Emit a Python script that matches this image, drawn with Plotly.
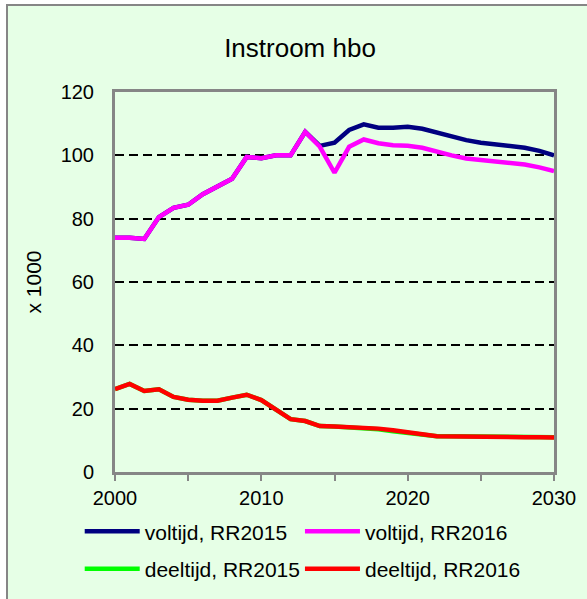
import plotly.graph_objects as go

# Instroom hbo, x 1000
years = list(range(2000, 2031))

voltijd_rr2015 = [74.0, 74.0, 73.6, 80.5, 83.4, 84.4, 87.7, 90.2, 92.6, 99.5,
                  99.1, 100.0, 100.0, 107.4, 103.0, 104.0, 108.0, 109.8, 108.7, 108.7,
                  109.0, 108.4, 107.2, 105.9, 104.8, 104.0, 103.4, 102.9, 102.4, 101.4,
                  100.0]
voltijd_rr2016 = [74.0, 74.0, 73.6, 80.5, 83.4, 84.4, 87.7, 90.2, 92.6, 99.5,
                  99.1, 100.0, 100.0, 107.4, 102.7, 94.5, 102.7, 105.0, 103.8, 103.2,
                  103.0, 102.4, 101.1, 100.0, 99.0, 98.5, 98.2, 97.6, 97.1, 96.2,
                  95.0]
deeltijd_rr2015 = [26.2, 27.8, 25.6, 26.1, 23.7, 22.8, 22.5, 22.5, 23.5, 24.4,
                   22.7, 19.8, 16.7, 16.1, 14.5, 14.4, 14.2, 13.9, 13.5, 12.9,
                   12.4, 11.7, 11.3, 11.3, 11.3, 11.3, 11.2, 11.2, 11.1, 11.1,
                   11.0]
deeltijd_rr2016 = [26.2, 27.8, 25.6, 26.1, 23.7, 22.8, 22.5, 22.5, 23.5, 24.4,
                   22.7, 19.8, 16.7, 16.1, 14.5, 14.4, 14.2, 14.0, 13.7, 13.2,
                   12.7, 11.9, 11.3, 11.2, 11.2, 11.2, 11.1, 11.1, 11.0, 11.0,
                   10.9]

series_names = ["voltijd, RR2015", "voltijd, RR2016", "deeltijd, RR2015", "deeltijd, RR2016"]
series_values = [voltijd_rr2015, voltijd_rr2016, deeltijd_rr2015, deeltijd_rr2016]
series_colors = ["#000080", "#FF00FF", "#00FF00", "#FF0000"]

split_year = 2015

FONT = "Liberation Sans, Arial, sans-serif"
BG = "#E6FFE6"
FRAME = "#868686"

# one legend box per entry, laid out as a 2x2 grid under the chart
legend_ids = ["legend", "legend2", "legend3", "legend4"]
legend_pos = [(0.1358, 0.1124), (0.511, 0.1124), (0.1358, 0.0500), (0.511, 0.0500)]

fig = go.Figure()
for name, vals, color, leg in zip(series_names, series_values, series_colors, legend_ids):
    fig.add_trace(go.Scatter(
        x=years, y=vals, name=name, mode="lines",
        line=dict(color=color, width=4.5),
        legend=leg,
    ))

# vertical marker at the start of the forecast period
fig.add_shape(type="line", xref="x", yref="paper", x0=split_year, x1=split_year,
              y0=0, y1=1, line=dict(color="#999999", width=2), layer="below")

# chart-area background with frame
fig.add_shape(type="rect", xref="paper", yref="paper",
              x0=-0.246, x1=1.2, y0=-0.5, y1=1.229,
              fillcolor=BG, line=dict(color=FRAME, width=2), layer="below")

legends = {}
for leg, (lx, ly) in zip(legend_ids, legend_pos):
    legends[leg] = dict(
        xref="container", yref="container", x=lx, y=ly,
        xanchor="left", yanchor="middle", orientation="h",
        itemwidth=55, bgcolor="rgba(0,0,0,0)", borderwidth=0,
        font=dict(size=21),
    )

fig.update_layout(
    width=587, height=599,
    margin=dict(l=115, r=33, t=92, b=127, autoexpand=False),
    paper_bgcolor="white",
    plot_bgcolor="white",
    font=dict(family=FONT, size=21, color="black"),
    title=dict(text="Instroom hbo", x=300 / 587, xanchor="center", xref="container",
               y=1 - 48 / 599, yanchor="middle",
               font=dict(family=FONT, size=26, color="black")),
    xaxis=dict(range=[2000, 2030], dtick=10, tick0=2000, automargin=False,
               showgrid=False, zeroline=False,
               showline=True, linecolor=FRAME, linewidth=3, mirror=True,
               ticks="outside", ticklen=6, tickcolor=FRAME, tickwidth=2,
               minor=dict(dtick=5, ticks="outside", ticklen=6, tickcolor=FRAME, tickwidth=2),
               tickfont=dict(size=20)),
    yaxis=dict(range=[0, 120], dtick=20, tick0=0, automargin=False,
               showgrid=True, gridcolor="black", gridwidth=2, griddash="9px,5px",
               zeroline=False,
               showline=True, linecolor=FRAME, linewidth=3, mirror=True,
               ticks="", ticklabelstandoff=14,
               tickfont=dict(size=20),
               title=dict(text="x 1000", font=dict(size=21), standoff=14)),
    showlegend=True,
    **legends,
)

fig.write_html("out.html")
